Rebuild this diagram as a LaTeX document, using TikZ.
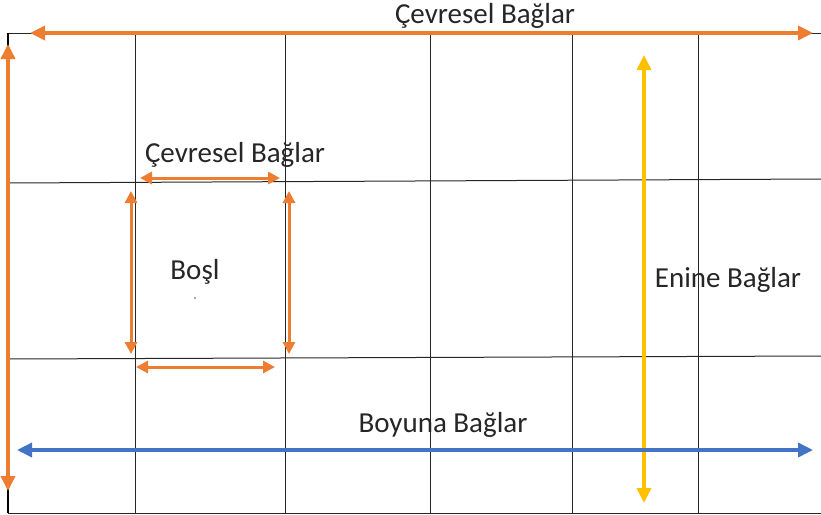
\documentclass[tikz,border=0pt]{standalone}
\usepackage{fontspec}
\setmainfont{Carlito}
\usetikzlibrary{arrows.meta}
\definecolor{bagorange}{HTML}{ED7D31}
\definecolor{bagblue}{HTML}{4472C4}
\definecolor{bagyellow}{HTML}{FFC000}
\tikzset{
  grid/.style={line width=1pt,black!85},
  bag/.style={line width=3.5pt,{Triangle[width=14pt,length=15pt]}-{Triangle[width=14pt,length=15pt]}},
  bagsmall/.style={line width=3pt,{Triangle[width=12pt,length=12pt]}-{Triangle[width=12pt,length=12pt]}},
  lbl/.style={font=\fontsize{29}{34}\selectfont,text=black!85,inner sep=0pt}
}
\begin{document}
\begin{tikzpicture}[x=1pt,y=-1pt]
\useasboundingbox (0,0) rectangle (821,514);
% grid
\draw[grid] (8,33) -- (821,33);
\draw[grid] (8,513) -- (821,513);
\draw[line width=2pt] (8,33) -- (8,513);
\foreach \x in {135,285,430,572,698}
  \draw[grid] (\x,33) -- (\x,513);
\draw[grid] (8,183) -- (821,179);
\draw[grid] (8,359) -- (821,356);
% outer arrows
\draw[bag,bagorange] (30,33) -- (813,33);
\draw[bag,bagorange] (8,44) -- (8,491);
\draw[bag,bagyellow] (644,55) -- (644,503);
\draw[bag,bagblue] (17,450) -- (813,450);
% around the opening
\draw[bagsmall,bagorange] (140,178) -- (280,178);
\draw[bagsmall,bagorange] (136,367) -- (275,367);
\draw[bagsmall,bagorange] (131,191) -- (131,354);
\draw[bagsmall,bagorange] (289,191) -- (289,354);
\fill[black!70] (195,298) circle (0.8);
% labels
\node[lbl] (cevre) at (485,16) {Çevresel Bağlar};
\node[lbl] (cevreic) at (235,155) {Çevresel Bağlar};
\node[lbl] (bosluk) at (195,272) {Boşl};
\node[lbl] (enine) at (728,280) {Enine Bağlar};
\node[lbl] (boyuna) at (443,425) {Boyuna Bağlar};
\end{tikzpicture}
\end{document}
